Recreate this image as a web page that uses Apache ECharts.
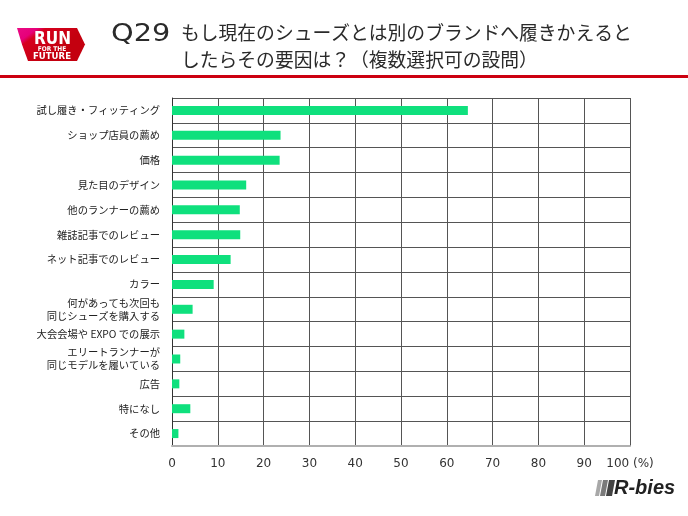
<!DOCTYPE html>
<html><head><meta charset="utf-8">
<script src="https://cdn.jsdelivr.net/npm/echarts@6/dist/echarts.min.js"></script>
<style>html,body{margin:0;padding:0;background:#fff}#c{width:688px;height:516px}</style>
</head><body><div id="c"></div>
<script>
const categories = [
  '試し履き・フィッティング',
  'ショップ店員の薦め',
  '価格',
  '見た目のデザイン',
  '他のランナーの薦め',
  '雑誌記事でのレビュー',
  'ネット記事でのレビュー',
  'カラー',
  '何があっても次回も\n同じシューズを購入する',
  '大会会場や EXPO での展示',
  'エリートランナーが\n同じモデルを履いている',
  '広告',
  '特になし',
  'その他'
];
const values = [64.6, 23.7, 23.5, 16.2, 14.8, 14.9, 12.8, 9.1, 4.5, 2.7, 1.8, 1.6, 4.0, 1.4];
const xTicks = [0, 10, 20, 30, 40, 50, 60, 70, 80, 90, 100];
const titleLines = ['もし現在のシューズとは別のブランドへ履きかえると', 'したらその要因は？（複数選択可の設問）'];
const qLabel = 'Q29';

const chart = echarts.init(document.getElementById('c'), null, {renderer: 'canvas'});
const jp = '"Noto Sans CJK JP", sans-serif';
const narrow = '"Liberation Sans Narrow", "DejaVu Sans Condensed", sans-serif';
chart.setOption({
  animation: false,
  backgroundColor: '#fff',
  grid: {left: 172, right: 58, top: 98, bottom: 70, containLabel: false},
  xAxis: {
    type: 'value', min: xTicks[0], max: xTicks[xTicks.length - 1], interval: 10,
    axisLine: {show: true, lineStyle: {color: '#b0b0b0', width: 2}},
    axisTick: {show: false},
    splitLine: {show: true, lineStyle: {color: '#555', width: 1}},
    axisLabel: {
      margin: 12, color: '#333', fontSize: 12, fontFamily: '"DejaVu Sans", sans-serif',
      formatter: v => v === 100 ? '100 (%)' : String(v)
    }
  },
  yAxis: {
    type: 'category', data: categories, inverse: true,
    axisLine: {show: true, lineStyle: {color: '#333', width: 1}},
    axisTick: {show: false},
    splitLine: {show: true, lineStyle: {color: '#555', width: 1}},
    axisLabel: {margin: 12, color: '#222', fontSize: 10.3, lineHeight: 13, fontFamily: jp}
  },
  series: [{
    type: 'bar', data: values, barWidth: 9,
    itemStyle: {color: '#0fe07d'}
  }],
  graphic: [
    // header red line
    {type: 'rect', shape: {x: 0, y: 75, width: 688, height: 3}, style: {fill: '#cc0010'}},
    // RUN FOR THE FUTURE badge
    {type: 'polygon', shape: {points: [[17,28],[77,28],[85,44.5],[77,61],[28,61],[22,44.5]]},
      style: {fill: new echarts.graphic.LinearGradient(0,0,0.35,1,[
        {offset:0,color:'#ea0a84'},{offset:0.3,color:'#e6007a'},{offset:0.42,color:'#d6001e'},{offset:1,color:'#c4000f'}])}},
    {type: 'text', x: 52.5, y: 39.5, style: {text: 'RUN', fill: '#fff', font: 'bold 17px ' + narrow, align: 'center', verticalAlign: 'middle'}},
    {type: 'text', x: 52, y: 49.5, style: {text: 'FOR THE', fill: '#fff', font: 'bold 6.5px ' + narrow, align: 'center', verticalAlign: 'middle'}},
    {type: 'text', x: 52, y: 56.8, style: {text: 'FUTURE', fill: '#fff', font: 'bold 9.5px ' + narrow, align: 'center', verticalAlign: 'middle'}},
    // Q label
    {type: 'text', x: 111, y: 34, scaleX: 1.15, style: {text: qLabel, fill: '#2a2a2a', font: '25px "DejaVu Sans", sans-serif', align: 'left', verticalAlign: 'middle'}},
    // title lines
    {type: 'text', x: 181, y: 33, style: {text: titleLines[0], fill: '#2a2a2a', font: '18.8px ' + jp, align: 'left', verticalAlign: 'middle'}},
    {type: 'text', x: 181, y: 60, style: {text: titleLines[1], fill: '#2a2a2a', font: '18.8px ' + jp, align: 'left', verticalAlign: 'middle'}},
    // R-bies logo
    {type: 'polygon', shape: {points: [[598,480],[602,480],[599,496],[595,496]]}, style: {fill: '#a8a8a8'}},
    {type: 'polygon', shape: {points: [[603,480],[608,480],[605,496],[600,496]]}, style: {fill: '#7a7a7a'}},
    {type: 'polygon', shape: {points: [[609,480],[615,480],[612,496],[606,496]]}, style: {fill: '#444'}},
    {type: 'text', x: 614, y: 488.5, style: {text: 'R-bies', fill: '#222', font: 'italic bold 20px "Liberation Sans", sans-serif', align: 'left', verticalAlign: 'middle'}}
  ]
});
</script></body></html>
